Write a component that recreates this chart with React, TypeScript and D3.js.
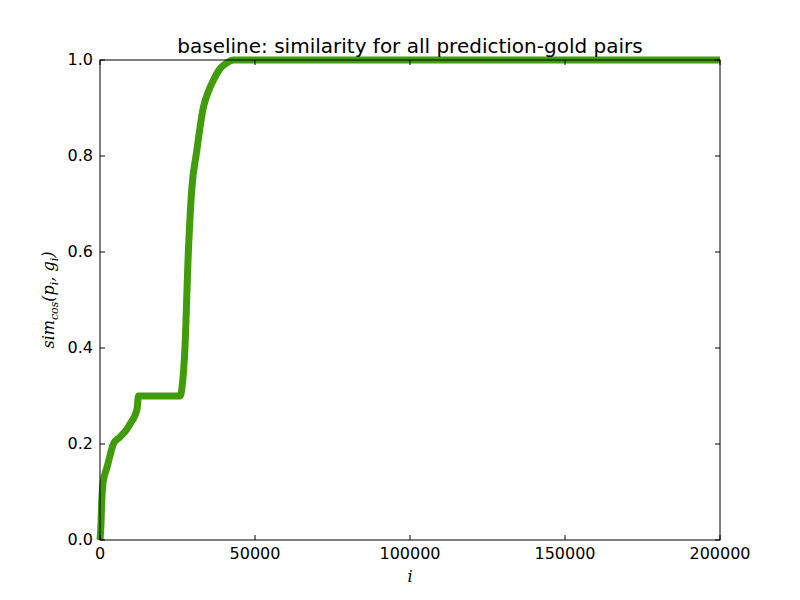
import React from 'react';
import * as d3 from 'd3';

const idx = [0, 300, 500, 1000, 2200, 3000, 4300, 6500, 8600, 10000, 11300, 12000, 12400, 25800, 26500, 27400, 28500, 29600, 31200, 33300, 35000, 36600, 38500, 40900, 43000, 200000];
const sim = [0, 0.03, 0.07, 0.12, 0.15, 0.17, 0.2, 0.215, 0.23, 0.245, 0.26, 0.275, 0.3, 0.3, 0.32, 0.4, 0.6, 0.73, 0.81, 0.9, 0.935, 0.958, 0.98, 0.994, 1, 1];
const xTicks = [0, 50000, 100000, 150000, 200000];
const yTicks = [0, 0.2, 0.4, 0.6, 0.8, 1.0];

const W = 800, H = 600;
const m = { top: 60, right: 80, bottom: 60, left: 100 };

export default function App() {
  const x = d3.scaleLinear().domain([0, 200000]).range([m.left, W - m.right]);
  const y = d3.scaleLinear().domain([0, 1]).range([H - m.bottom, m.top]);
  const line = d3.line<number>().x((_, i) => x(idx[i])).y(d => y(d)).curve(d3.curveMonotoneX);
  const font = 'DejaVu Sans, sans-serif';
  return (
    <svg width={W} height={H} style={{ position: 'absolute', left: 0, top: 0, background: '#fff' }}>
      <rect x={0} y={0} width={W} height={H} fill="#fff" />
      <path d={line(sim) || ''} fill="none" stroke="#419c0b" strokeWidth={7} strokeLinejoin="round" />
      <rect x={m.left} y={m.top} width={W - m.left - m.right} height={H - m.top - m.bottom} fill="none" stroke="#000" strokeWidth={1} />
      {xTicks.map(t => (
        <g key={t}>
          <line x1={x(t)} x2={x(t)} y1={H - m.bottom} y2={H - m.bottom - 5} stroke="#000" />
          <line x1={x(t)} x2={x(t)} y1={m.top} y2={m.top + 5} stroke="#000" />
          <text x={x(t)} y={H - m.bottom + 19} textAnchor="middle" fontSize={16} fontFamily={font}>{t}</text>
        </g>
      ))}
      {yTicks.map(t => (
        <g key={t}>
          <line x1={m.left} x2={m.left + 5} y1={y(t)} y2={y(t)} stroke="#000" />
          <line x1={W - m.right} x2={W - m.right - 5} y1={y(t)} y2={y(t)} stroke="#000" />
          <text x={m.left - 7} y={y(t) + 5} textAnchor="end" fontSize={16} fontFamily={font}>{t.toFixed(1)}</text>
        </g>
      ))}
      <text x={(m.left + W - m.right) / 2} y={53} textAnchor="middle" fontSize={20} fontFamily={font}>baseline: similarity for all prediction-gold pairs</text>
      <text x={(m.left + W - m.right) / 2} y={582} textAnchor="middle" fontSize={16} fontStyle="italic" fontFamily="DejaVu Serif, serif">i</text>
      <text transform={`translate(54,${(m.top + H - m.bottom) / 2}) rotate(-90)`} textAnchor="middle" fontSize={16} fontStyle="italic" fontFamily="DejaVu Serif, serif">
        sim<tspan fontSize={11} dy={4}>cos</tspan><tspan dy={-4}>(p</tspan><tspan fontSize={11} dy={4}>i</tspan><tspan dy={-4}>, g</tspan><tspan fontSize={11} dy={4}>i</tspan><tspan dy={-4}>)</tspan>
      </text>
    </svg>
  );
}
